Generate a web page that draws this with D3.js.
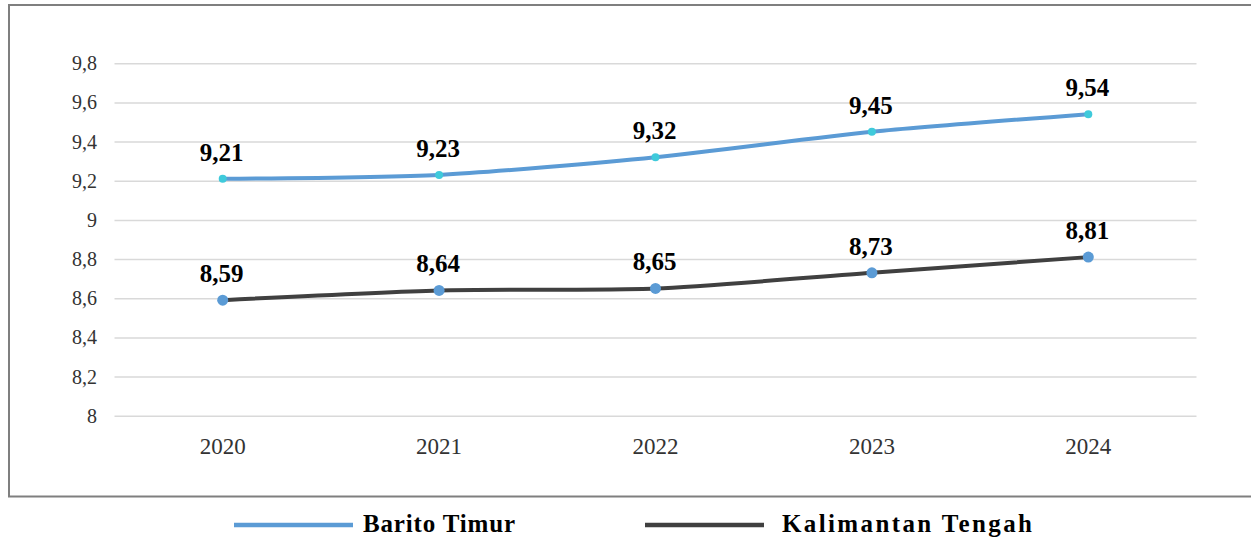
<!DOCTYPE html>
<html>
<head>
<meta charset="utf-8">
<script src="https://cdn.jsdelivr.net/npm/d3@7"></script>
<style>
    body { margin: 0; background: #fff; }
    svg { display: block; font-family: "Liberation Serif", "Times New Roman", serif; }
    .grid line { stroke: #d9d9d9; stroke-width: 1.5; }
    .grid path { display: none; }
    .axis-label { fill: #333; }
    .data-label { font-weight: bold; font-size: 25px; fill: #000; text-anchor: middle; }
    .legend-text { font-weight: bold; font-size: 25px; fill: #000; }
</style>
</head>
<body>
<svg id="chart" width="1251" height="539"></svg>
<script>
const years = ["2020", "2021", "2022", "2023", "2024"];
const baritoTimur = [9.21, 9.23, 9.32, 9.45, 9.54];
const kalimantanTengah = [8.59, 8.64, 8.65, 8.73, 8.81];
const yTicks = [8, 8.2, 8.4, 8.6, 8.8, 9, 9.2, 9.4, 9.6, 9.8];

const series = [
    { name: "Barito Timur", values: baritoTimur, color: "#5b9bd5", marker: "#3fcadb", r: 4, legendX: 234, textX: 363, textLen: 152 },
    { name: "Kalimantan Tengah", values: kalimantanTengah, color: "#404040", marker: "#5b9bd5", r: 5.5, legendX: 645, textX: 782, textLen: 250 }
];

const svg = d3.select("#chart");
const fmt = v => String(v).replace(".", ",");

// outer frame, right side runs off the picture
svg.append("rect")
    .attr("x", 9).attr("y", 5)
    .attr("width", 1260).attr("height", 491.5)
    .attr("fill", "none")
    .attr("stroke", "#7f7f7f")
    .attr("stroke-width", 2);

const x = d3.scaleBand().domain(years).range([114.5, 1196.5]);
const y = d3.scaleLinear().domain([8, 9.8]).range([415.7, 63.3]);

// horizontal gridlines
svg.append("g")
    .attr("class", "grid")
    .attr("transform", "translate(114.5,0)")
    .call(d3.axisLeft(y).tickValues(yTicks).tickSize(-1082).tickFormat(""));

// y tick labels
svg.append("g")
    .selectAll("text")
    .data(yTicks)
    .join("text")
    .attr("class", "axis-label")
    .attr("x", 97)
    .attr("y", d => y(d))
    .attr("dy", "0.35em")
    .attr("text-anchor", "end")
    .style("font-size", "20px")
    .text(d => fmt(d));

// x tick labels
svg.append("g")
    .selectAll("text")
    .data(years)
    .join("text")
    .attr("class", "axis-label")
    .attr("x", d => x(d) + x.bandwidth() / 2)
    .attr("y", 454)
    .attr("text-anchor", "middle")
    .style("font-size", "23px")
    .text(d => d);

const line = d3.line()
    .x((d, i) => x(years[i]) + x.bandwidth() / 2)
    .y(d => y(d))
    .curve(d3.curveCardinal.tension(0.3));

series.forEach(s => {
    const g = svg.append("g");

    g.append("path")
        .datum(s.values)
        .attr("fill", "none")
        .attr("stroke", s.color)
        .attr("stroke-width", 4)
        .attr("stroke-linecap", "round")
        .attr("d", line);

    g.selectAll("circle")
        .data(s.values)
        .join("circle")
        .attr("cx", (d, i) => x(years[i]) + x.bandwidth() / 2)
        .attr("cy", d => y(d))
        .attr("r", s.r)
        .attr("fill", s.marker);

    g.selectAll(".data-label")
        .data(s.values)
        .join("text")
        .attr("class", "data-label")
        .attr("x", (d, i) => x(years[i]) + x.bandwidth() / 2 - 1)
        .attr("y", d => y(d) - 18)
        .text(d => fmt(d.toFixed(2)));

    // legend entry below the frame
    svg.append("line")
        .attr("x1", s.legendX).attr("x2", s.legendX + 119)
        .attr("y1", 525).attr("y2", 525)
        .attr("stroke", s.color)
        .attr("stroke-width", 4.5);

    svg.append("text")
        .attr("class", "legend-text")
        .attr("x", s.textX)
        .attr("y", 532)
        .attr("textLength", s.textLen)
        .attr("lengthAdjust", "spacing")
        .text(s.name);
});
</script>
</body>
</html>
